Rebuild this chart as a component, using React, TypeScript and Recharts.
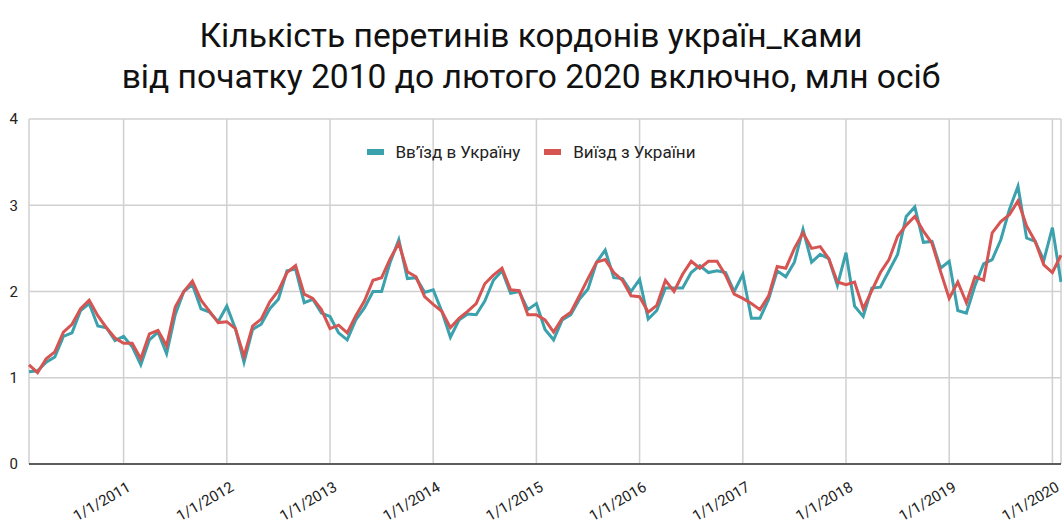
import React from "react";
import { LineChart, Line, XAxis, YAxis, CartesianGrid } from "recharts";

// monthly values, Jan 2010 .. Jan 2020, million persons
const entryByYear: number[][] = [
  [1.07, 1.08, 1.18, 1.24, 1.48, 1.52, 1.78, 1.86, 1.6, 1.58, 1.43, 1.48],
  [1.36, 1.15, 1.44, 1.53, 1.28, 1.73, 2.0, 2.08, 1.8, 1.76, 1.65, 1.83],
  [1.57, 1.18, 1.56, 1.62, 1.8, 1.91, 2.24, 2.26, 1.87, 1.91, 1.75, 1.71],
  [1.52, 1.44, 1.67, 1.81, 2.0, 2.0, 2.34, 2.6, 2.15, 2.16, 1.99, 2.02],
  [1.77, 1.47, 1.67, 1.74, 1.73, 1.89, 2.13, 2.24, 1.98, 2.0, 1.79, 1.86],
  [1.56, 1.44, 1.67, 1.73, 1.91, 2.03, 2.34, 2.48, 2.16, 2.15, 2.0, 2.14],
  [1.68, 1.78, 2.04, 2.04, 2.04, 2.22, 2.3, 2.22, 2.24, 2.22, 2.0, 2.2],
  [1.69, 1.69, 1.91, 2.24, 2.17, 2.34, 2.72, 2.34, 2.43, 2.38, 2.07, 2.45],
  [1.83, 1.71, 2.04, 2.05, 2.24, 2.43, 2.87, 2.98, 2.57, 2.58, 2.27, 2.35],
  [1.78, 1.75, 2.07, 2.32, 2.37, 2.6, 2.95, 3.22, 2.62, 2.58, 2.36, 2.74],
  [2.11],
];

const exitByYear: number[][] = [
  [1.15, 1.06, 1.22, 1.3, 1.53, 1.62, 1.8, 1.9, 1.72, 1.58, 1.46, 1.4],
  [1.4, 1.22, 1.51, 1.55, 1.37, 1.82, 2.0, 2.12, 1.9, 1.77, 1.64, 1.65],
  [1.57, 1.25, 1.6, 1.68, 1.88, 2.01, 2.22, 2.3, 1.97, 1.92, 1.79, 1.57],
  [1.61, 1.52, 1.72, 1.89, 2.13, 2.16, 2.38, 2.56, 2.23, 2.17, 1.94, 1.85],
  [1.77, 1.58, 1.69, 1.77, 1.86, 2.09, 2.19, 2.27, 2.02, 2.01, 1.73, 1.73],
  [1.67, 1.53, 1.69, 1.76, 1.95, 2.15, 2.34, 2.37, 2.22, 2.13, 1.95, 1.94],
  [1.76, 1.84, 2.13, 2.0, 2.2, 2.35, 2.27, 2.35, 2.35, 2.19, 1.97, 1.92],
  [1.86, 1.79, 1.95, 2.29, 2.27, 2.5, 2.68, 2.5, 2.52, 2.38, 2.11, 2.08],
  [2.11, 1.8, 2.01, 2.22, 2.37, 2.64, 2.77, 2.87, 2.7, 2.56, 2.23, 1.92],
  [2.11, 1.87, 2.17, 2.13, 2.68, 2.81, 2.89, 3.05, 2.76, 2.58, 2.31, 2.22],
  [2.42],
];

const years = [2010, 2011, 2012, 2013, 2014, 2015, 2016, 2017, 2018, 2019, 2020];
const tickLabels = ["1/1/2011", "1/1/2012", "1/1/2013", "1/1/2014", "1/1/2015", "1/1/2016", "1/1/2017", "1/1/2018", "1/1/2019", "1/1/2020"];
const yTicks = [0, 1, 2, 3, 4];

const ENTRY = "Вв’їзд в Україну";
const EXIT = "Виїзд з України";
const TEAL = "#3aa1ad";
const RED = "#d65451";

// points sit at month ends, so Jan 1 of year N lines up with Dec of N-1
const data = years.flatMap((y, yi) =>
  entryByYear[yi].map((v, m) => ({
    idx: yi * 12 + m,
    month: `${m + 1}/${y}`,
    entry: v,
    exit: exitByYear[yi][m],
  })),
);
const xTicks = tickLabels.map((_, i) => i * 12 + 11);

const XTick = (props: any) => {
  const { x, y, payload } = props;
  const label = tickLabels[(payload.value - 11) / 12];
  const ax = x + 8;
  const ay = y + 18;
  return (
    <text x={ax} y={ay} transform={`rotate(-30 ${ax} ${ay})`} textAnchor="end" fontSize={15} fill="#222">
      {label}
    </text>
  );
};

const LegendBox = () => (
  <div
    style={{
      position: "absolute",
      top: 142,
      left: 0,
      width: 1062,
      display: "flex",
      justifyContent: "center",
      gap: 24,
      fontSize: 17,
      color: "#222",
    }}
  >
    {[
      [ENTRY, TEAL],
      [EXIT, RED],
    ].map(([name, c]) => (
      <div key={name} style={{ display: "flex", alignItems: "center" }}>
        <span style={{ width: 17, height: 6, background: c, marginRight: 12, display: "inline-block" }} />
        {name}
      </div>
    ))}
  </div>
);

export default function App() {
  return (
    <div style={{ position: "absolute", left: 0, top: 0, width: 1062, height: 521, background: "#fff", fontFamily: "Roboto, 'Noto Sans', sans-serif" }}>
      <div style={{ position: "absolute", top: 15, left: 0, width: 1062, textAlign: "center", fontSize: 33.6, lineHeight: "41px", color: "#111" }}>
        Кількість перетинів кордонів україн_ками
        <br />
        від початку 2010 до лютого 2020 включно, млн осіб
      </div>
      <LineChart width={1062} height={521} data={data} margin={{ top: 119, right: 1, bottom: 0, left: 0 }}>
        <CartesianGrid stroke="#d0d0d0" strokeWidth={1.5} />
        <XAxis
          dataKey="idx"
          type="number"
          domain={[0, 120]}
          ticks={xTicks}
          interval={0}
          height={57}
          tick={<XTick />}
          tickLine={false}
          axisLine={{ stroke: "#333", strokeWidth: 1.5 }}
        />
        <YAxis
          domain={[0, 4]}
          ticks={yTicks}
          width={29}
          axisLine={false}
          tickLine={false}
          tick={{ fontSize: 15, fill: "#222", dx: -3 }}
          tickMargin={2}
        />
        <Line name={ENTRY} dataKey="entry" stroke={TEAL} strokeWidth={3} dot={false} isAnimationActive={false} />
        <Line name={EXIT} dataKey="exit" stroke={RED} strokeWidth={3} dot={false} isAnimationActive={false} />
      </LineChart>
      <LegendBox />
    </div>
  );
}
